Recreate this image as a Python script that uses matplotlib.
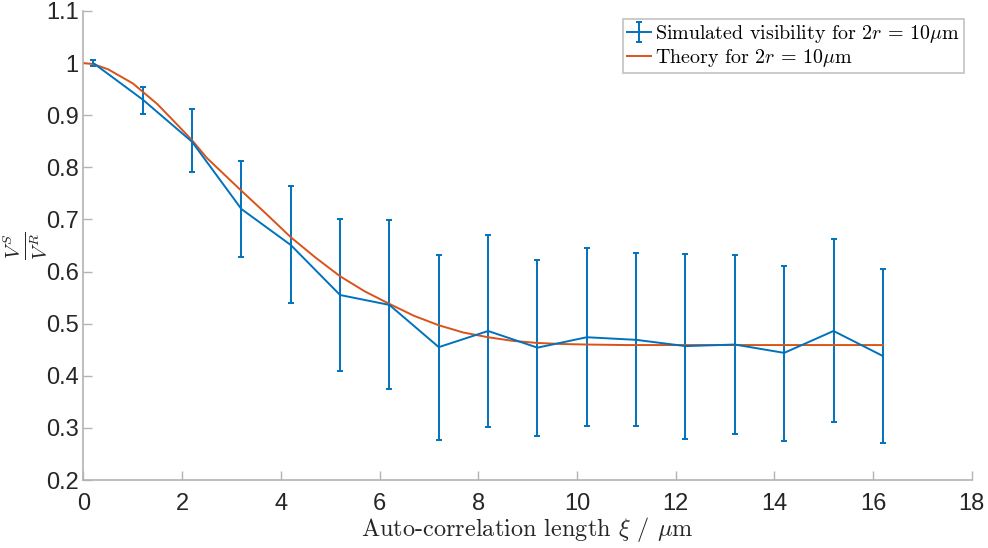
import numpy as np
import matplotlib
matplotlib.use("Agg")
import matplotlib.pyplot as plt

# simulated visibility (mean and error bar ends)
xi = [0.2, 1.2, 2.2, 3.2, 4.2, 5.2, 6.2, 7.2, 8.2, 9.2, 10.2, 11.2, 12.2, 13.2, 14.2, 15.2, 16.2]
vis = [1.000, 0.930, 0.849, 0.720, 0.651, 0.555, 0.536, 0.455, 0.486, 0.454, 0.474, 0.469, 0.457, 0.460, 0.444, 0.486, 0.438]
vis_hi = [1.005, 0.954, 0.911, 0.813, 0.764, 0.700, 0.699, 0.632, 0.670, 0.622, 0.645, 0.636, 0.634, 0.632, 0.611, 0.662, 0.604]
vis_lo = [0.995, 0.903, 0.791, 0.628, 0.539, 0.409, 0.374, 0.277, 0.301, 0.284, 0.304, 0.303, 0.279, 0.289, 0.275, 0.311, 0.271]

# theory curve
xi_th = [0, 0.2, 0.5, 1.0, 1.2, 1.5, 2.0, 2.2, 2.5, 3.0, 3.2, 3.7, 4.2, 4.7, 5.2, 5.7, 6.2, 6.7,
         7.2, 7.7, 8.2, 8.7, 9.2, 9.7, 10.2, 11.0, 12.0, 13.0, 14.0, 15.0, 16.2]
v_th = [1.000, 0.998, 0.988, 0.961, 0.945, 0.921, 0.872, 0.852, 0.818, 0.773, 0.755, 0.711, 0.666,
        0.627, 0.591, 0.562, 0.538, 0.515, 0.497, 0.483, 0.474, 0.467, 0.463, 0.461, 0.460,
        0.459, 0.459, 0.459, 0.459, 0.459, 0.459]

plt.rcParams['mathtext.fontset'] = 'cm'
blue = '#0072BD'
orange = '#D95319'
grey = '#b3b3b3'
txt = '#262626'

fig = plt.figure(figsize=(9.88, 5.48), dpi=100)
ax = fig.add_axes([0.0845, 0.124, 0.899, 0.856])

err = [np.array(vis) - np.array(vis_lo), np.array(vis_hi) - np.array(vis)]
h1 = ax.errorbar(xi, vis, yerr=err, color=blue, lw=1.4, elinewidth=1.4, capsize=2.5, capthick=1.4,
                 label=r'Simulated visibility for $2r\,=\,10\mu$m')
h2, = ax.plot(xi_th, v_th, color=orange, lw=1.4, label=r'Theory for $2r\,=\,10\mu$m')

ax.set_xlim(0, 18)
ax.set_ylim(0.2, 1.1)
xt = np.arange(0, 19, 2)
yt = np.round(np.arange(0.2, 1.11, 0.1), 1)
ax.set_xticks(xt)
ax.set_yticks(yt)
ax.set_xticklabels([f'{t:g}' for t in xt])
ax.set_yticklabels([f'{t:g}' for t in yt])

for s in ['top', 'right']:
    ax.spines[s].set_visible(False)
for s in ['left', 'bottom']:
    ax.spines[s].set_color(grey)
    ax.spines[s].set_linewidth(1.2)
ax.tick_params(direction='in', length=6.5, width=1.0, color=grey, labelcolor=txt,
               labelsize=17)
ax.tick_params(axis='x', pad=9)
ax.tick_params(axis='y', pad=3.5)
for lab in ax.get_xticklabels() + ax.get_yticklabels():
    lab.set_fontfamily('Liberation Sans')

ax.set_xlabel(r'Auto-correlation length $\xi$ / $\mu$m', fontfamily='cmr10', fontsize=17.5, color=txt, labelpad=0)
# y label as a rotated fraction, centred left of the tick labels
ax.text(-0.066, 0.5, r'$\frac{V^S}{V^R}$', transform=ax.transAxes, rotation=90,
        ha='center', va='center', fontsize=21, color=txt)

leg = ax.legend([h1, h2], [h1.get_label(), h2.get_label()], loc='upper right',
                bbox_to_anchor=(0.991, 0.983), prop={'family': 'cmr10', 'size': 14.4},
                frameon=True, fancybox=False, handlelength=1.2, handletextpad=0.2,
                labelspacing=0.1, borderpad=0.2, borderaxespad=0)
leg.get_frame().set_edgecolor(grey)
leg.get_frame().set_linewidth(1.2)

plt.savefig('out.png', dpi=100)
